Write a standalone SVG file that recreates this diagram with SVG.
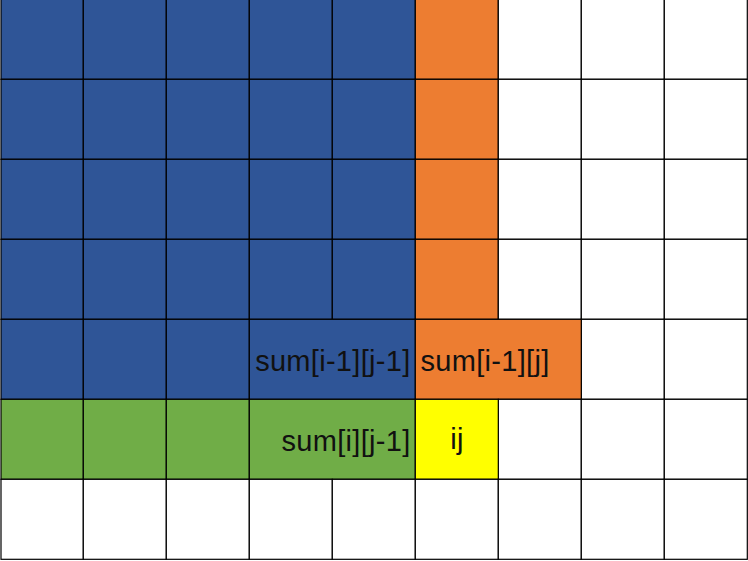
<svg xmlns="http://www.w3.org/2000/svg" width="748" height="561" viewBox="0 0 748 561">
<style>
.c{stroke:#000;stroke-width:1.2}
.b{fill:#2F5597}.o{fill:#ED7D31}.g{fill:#70AD47}.y{fill:#FFFF00}.w{fill:#FFFFFF}
.t{font-family:"Liberation Sans",Arial,sans-serif;font-size:29px;letter-spacing:0.3px;fill:#111}
</style>
<rect width="748" height="561" fill="#fff"/>
<g id="row0">
<rect class="c b" x="1" y="-0.7" width="82.3" height="80"/>
<rect class="c b" x="83.3" y="-0.7" width="83" height="80"/>
<rect class="c b" x="166.3" y="-0.7" width="83" height="80"/>
<rect class="c b" x="249.3" y="-0.7" width="83" height="80"/>
<rect class="c b" x="332.3" y="-0.7" width="83" height="80"/>
<rect class="c o" x="415.3" y="-0.7" width="83" height="80"/>
<rect class="c w" x="498.3" y="-0.7" width="83" height="80"/>
<rect class="c w" x="581.3" y="-0.7" width="83" height="80"/>
<rect class="c w" x="664.3" y="-0.7" width="83" height="80"/>
</g>
<g id="row1">
<rect class="c b" x="1" y="79.3" width="82.3" height="80"/>
<rect class="c b" x="83.3" y="79.3" width="83" height="80"/>
<rect class="c b" x="166.3" y="79.3" width="83" height="80"/>
<rect class="c b" x="249.3" y="79.3" width="83" height="80"/>
<rect class="c b" x="332.3" y="79.3" width="83" height="80"/>
<rect class="c o" x="415.3" y="79.3" width="83" height="80"/>
<rect class="c w" x="498.3" y="79.3" width="83" height="80"/>
<rect class="c w" x="581.3" y="79.3" width="83" height="80"/>
<rect class="c w" x="664.3" y="79.3" width="83" height="80"/>
</g>
<g id="row2">
<rect class="c b" x="1" y="159.3" width="82.3" height="80"/>
<rect class="c b" x="83.3" y="159.3" width="83" height="80"/>
<rect class="c b" x="166.3" y="159.3" width="83" height="80"/>
<rect class="c b" x="249.3" y="159.3" width="83" height="80"/>
<rect class="c b" x="332.3" y="159.3" width="83" height="80"/>
<rect class="c o" x="415.3" y="159.3" width="83" height="80"/>
<rect class="c w" x="498.3" y="159.3" width="83" height="80"/>
<rect class="c w" x="581.3" y="159.3" width="83" height="80"/>
<rect class="c w" x="664.3" y="159.3" width="83" height="80"/>
</g>
<g id="row3">
<rect class="c b" x="1" y="239.3" width="82.3" height="80"/>
<rect class="c b" x="83.3" y="239.3" width="83" height="80"/>
<rect class="c b" x="166.3" y="239.3" width="83" height="80"/>
<rect class="c b" x="249.3" y="239.3" width="83" height="80"/>
<rect class="c b" x="332.3" y="239.3" width="83" height="80"/>
<rect class="c o" x="415.3" y="239.3" width="83" height="80"/>
<rect class="c w" x="498.3" y="239.3" width="83" height="80"/>
<rect class="c w" x="581.3" y="239.3" width="83" height="80"/>
<rect class="c w" x="664.3" y="239.3" width="83" height="80"/>
</g>
<g id="row4">
<rect class="c b" x="1" y="319.3" width="82.3" height="80"/>
<rect class="c b" x="83.3" y="319.3" width="83" height="80"/>
<rect class="c b" x="166.3" y="319.3" width="83" height="80"/>
<rect class="c w" x="581.3" y="319.3" width="83" height="80"/>
<rect class="c w" x="664.3" y="319.3" width="83" height="80"/>
</g>
<g id="sum-i1-j1">
<rect class="c b" x="249.3" y="319.3" width="166" height="80"/>
<text class="t" x="410.5" y="371" text-anchor="end">sum[i-1][j-1]</text>
</g>
<g id="sum-i1-j">
<rect class="c o" x="415.3" y="319.3" width="166" height="80"/>
<text class="t" x="420.5" y="371">sum[i-1][j]</text>
</g>
<g id="row5">
<rect class="c g" x="1" y="399.3" width="82.3" height="80"/>
<rect class="c g" x="83.3" y="399.3" width="83" height="80"/>
<rect class="c g" x="166.3" y="399.3" width="83" height="80"/>
<rect class="c w" x="498.3" y="399.3" width="83" height="80"/>
<rect class="c w" x="581.3" y="399.3" width="83" height="80"/>
<rect class="c w" x="664.3" y="399.3" width="83" height="80"/>
</g>
<g id="sum-i-j1">
<rect class="c g" x="249.3" y="399.3" width="166" height="80"/>
<text class="t" x="410.5" y="451" text-anchor="end">sum[i][j-1]</text>
</g>
<g id="ij">
<rect class="c y" x="415.3" y="399.3" width="83" height="80"/>
<text class="t" x="457" y="449" text-anchor="middle">ij</text>
</g>
<g id="row6">
<rect class="c w" x="1" y="479.3" width="82.3" height="80"/>
<rect class="c w" x="83.3" y="479.3" width="83" height="80"/>
<rect class="c w" x="166.3" y="479.3" width="83" height="80"/>
<rect class="c w" x="249.3" y="479.3" width="83" height="80"/>
<rect class="c w" x="332.3" y="479.3" width="83" height="80"/>
<rect class="c w" x="415.3" y="479.3" width="83" height="80"/>
<rect class="c w" x="498.3" y="479.3" width="83" height="80"/>
<rect class="c w" x="581.3" y="479.3" width="83" height="80"/>
<rect class="c w" x="664.3" y="479.3" width="83" height="80"/>
</g>
<g id="connectors"></g>
</svg>
